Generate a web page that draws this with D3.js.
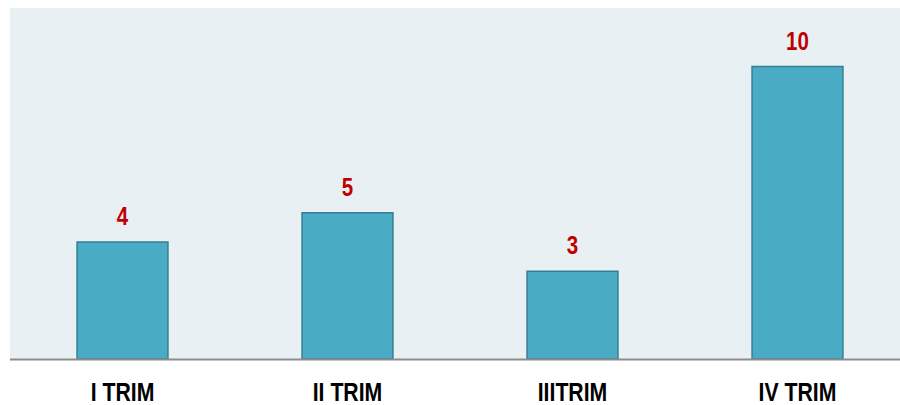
<!DOCTYPE html>
<html>
<head>
<meta charset="utf-8">
<script src="https://cdn.jsdelivr.net/npm/d3@7"></script>
<style>
  html, body { margin: 0; padding: 0; background: #ffffff; }
  svg { display: block; }
  text { font-family: "Liberation Sans", Arial, sans-serif; font-weight: bold; }
</style>
</head>
<body>
<svg id="chart" width="900" height="405"></svg>
<script>
// Quarterly counts
const categories = ["I TRIM", "II TRIM", "IIITRIM", "IV TRIM"];
const values = [4, 5, 3, 10];

const width = 900, height = 405;
const plot = { left: 10, right: 910, top: 8, bottom: 359 };
// Condensed look: regular sans squeezed horizontally
const narrow = 0.82;
const narrowAxis = 0.85;

const svg = d3.select("#chart");

const x = d3.scaleBand()
  .domain(categories)
  .range([plot.left, plot.right])
  .paddingInner(0.596)
  .paddingOuter(0.298);

const y = d3.scaleLinear()
  .domain([0, 12])
  .range([plot.bottom, plot.top]);

// plot area background
svg.append("rect")
  .attr("x", plot.left)
  .attr("y", plot.top)
  .attr("width", width - plot.left)
  .attr("height", plot.bottom - plot.top)
  .attr("fill", "#e8f0f3");

// bars
svg.append("g")
  .selectAll("rect")
  .data(values)
  .join("rect")
  .attr("x", (d, i) => x(categories[i]))
  .attr("y", d => y(d))
  .attr("width", x.bandwidth())
  .attr("height", d => y(0) - y(d))
  .attr("fill", "#4aabc4")
  .attr("stroke", "#357f93")
  .attr("stroke-width", 1.5);

// baseline
svg.append("line")
  .attr("x1", plot.left)
  .attr("x2", width)
  .attr("y1", y(0) + 0.5)
  .attr("y2", y(0) + 0.5)
  .attr("stroke", "#8c8c8c")
  .attr("stroke-width", 2);

// value labels
svg.append("g")
  .selectAll("text")
  .data(values)
  .join("text")
  .attr("transform", (d, i) =>
    `translate(${x(categories[i]) + x.bandwidth() / 2},${y(d) - 17}) scale(${narrow},1)`)
  .attr("text-anchor", "middle")
  .attr("font-size", 25)
  .attr("fill", "#c00000")
  .text(d => d);

// category axis labels
const xAxis = d3.axisBottom(x).tickSize(0).tickPadding(0);
const axisG = svg.append("g")
  .attr("transform", `translate(0,${plot.bottom})`)
  .call(xAxis);
axisG.select(".domain").remove();
axisG.selectAll("text")
  .attr("dy", null)
  .attr("y", null)
  .attr("transform", `translate(0,42) scale(${narrowAxis},1)`)
  .attr("font-size", 25)
  .attr("fill", "#000000")
  .style("font-family", "\"Liberation Sans\", Arial, sans-serif")
  .style("font-weight", "bold");
</script>
</body>
</html>
